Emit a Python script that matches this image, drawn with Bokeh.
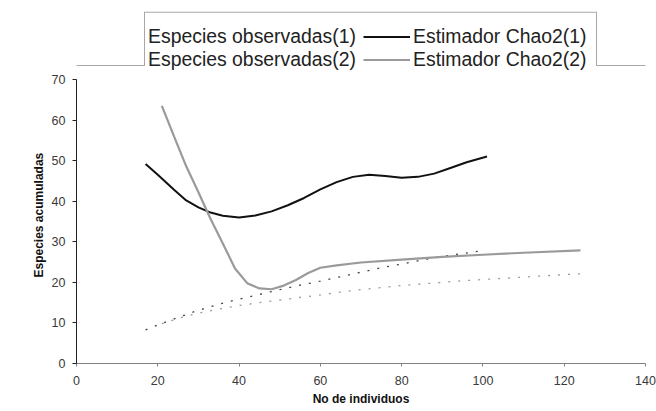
from bokeh.plotting import figure
from bokeh.models import Range1d, FixedTicker, Legend, LegendItem, BoxAnnotation, Title
from bokeh.embed import file_html
from bokeh.resources import INLINE

# ---- data ----
obs1_x = [17, 20, 23, 26, 29, 32, 35, 38, 41, 44, 47, 50, 55, 60, 65, 70, 75, 80, 85, 90, 95, 100]
obs1_y = [8.3, 9.5, 10.6, 11.7, 12.8, 13.7, 14.6, 15.4, 16.1, 16.8, 17.5, 18.2, 19.3, 20.3, 21.4, 22.5, 23.6, 24.5, 25.5, 26.4, 27.1, 27.8]

chao1_x = [17, 20, 24, 27, 30, 33, 36, 40, 44, 48, 52, 56, 60, 64, 68, 72, 76, 80, 84, 88, 92, 96, 101]
chao1_y = [49.2, 46.5, 42.8, 40.2, 38.5, 37.2, 36.4, 36.0, 36.5, 37.5, 39.0, 40.8, 42.9, 44.7, 46.0, 46.5, 46.2, 45.8, 46.0, 46.8, 48.2, 49.6, 51.0]

obs2_x = [21, 25, 30, 35, 40, 45, 50, 55, 60, 65, 70, 75, 80, 85, 90, 95, 100, 105, 110, 115, 120, 124]
obs2_y = [9.8, 11.1, 12.4, 13.4, 14.3, 15.0, 15.6, 16.3, 16.9, 17.6, 18.2, 18.7, 19.2, 19.6, 20.0, 20.4, 20.7, 21.0, 21.3, 21.6, 21.9, 22.1]

chao2_x = [21, 24, 27, 30, 33, 36, 39, 42, 45, 48, 51, 54, 57, 60, 64, 70, 80, 90, 100, 110, 124]
chao2_y = [63.5, 56.0, 48.6, 42.2, 35.6, 29.6, 23.4, 19.8, 18.5, 18.3, 19.2, 20.6, 22.3, 23.6, 24.2, 24.9, 25.6, 26.3, 26.8, 27.3, 27.9]

x_ticks = [0, 20, 40, 60, 80, 100, 120, 140]
y_ticks = [0, 10, 20, 30, 40, 50, 60, 70]

labels = ["Especies observadas(1)", "Estimador Chao2(1)",
          "Especies observadas(2)", "Estimador Chao2(2)"]
x_title = "No de individuos"
y_title = "Especies acumuladas"

FONT = "Liberation Sans"

# layout constants (pixels)
W, H = 656, 411
FRAME_L, FRAME_R, FRAME_B = 76, 645, 363
Y70_PX = 79                       # where the 70 tick sits
y_top = 70 * FRAME_B / (FRAME_B - Y70_PX)   # frame reaches the top so the legend is inside it

p = figure(width=W, height=H, output_backend="svg", toolbar_location=None,
           x_range=Range1d(0, 140), y_range=Range1d(0, y_top),
           min_border_left=FRAME_L, min_border_right=W - FRAME_R,
           min_border_top=0, min_border_bottom=H - FRAME_B)
p.xgrid.visible = False
p.ygrid.visible = False
p.outline_line_color = None
p.background_fill_color = "white"
p.border_fill_color = "white"

# axes
p.xaxis.ticker = FixedTicker(ticks=x_ticks)
p.yaxis.ticker = FixedTicker(ticks=y_ticks)
p.yaxis.bounds = (0, 70)
for ax in (p.xaxis[0], p.yaxis[0]):
    ax.minor_tick_line_color = None
    ax.major_label_text_font = FONT
    ax.major_label_text_font_size = "12.5px"
    ax.major_label_text_color = "#3a3a3a"
    ax.axis_label_text_font = FONT
    ax.axis_label_text_font_size = "12px"
    ax.axis_label_text_font_style = "bold"
    ax.axis_label_text_color = "#111111"
    ax.major_tick_in = 0

p.xaxis.axis_label = x_title
p.xaxis.axis_line_color = "#808080"
p.xaxis.major_tick_line_color = "#808080"
p.xaxis.major_tick_out = 3
p.xaxis.major_label_standoff = 9
p.xaxis.axis_label_standoff = 4
p.yaxis.axis_line_color = "#222222"
p.yaxis.major_tick_line_color = "#222222"
p.yaxis.major_tick_out = 4
p.yaxis.major_label_standoff = 7

# y title: its lower end sits at the bottom of the frame, lifted so that it is
# centred on the 0-70 part of the axis (text spans about y=158..277)
TITLE_BOTTOM_PX = 277
p.add_layout(Title(text=y_title, align="left", offset=FRAME_B - TITLE_BOTTOM_PX,
                   standoff=5, text_font=FONT, text_font_size="12px",
                   text_font_style="bold", text_color="#111111"), "left")

# series
r_obs1 = p.line(obs1_x, obs1_y, line_color="#444444", line_width=1.3, line_dash="2 8")
r_obs2 = p.line(obs2_x, obs2_y, line_color="#9a9a9a", line_width=1.3, line_dash="2 8")
r_chao1 = p.line(chao1_x, chao1_y, line_color="#111111", line_width=2)
r_chao2 = p.line(chao2_x, chao2_y, line_color="#9a9a9a", line_width=2.2)

# invisible stand-ins: the reference legend shows no sample for the observed series
d1 = p.line([], [], line_alpha=0)
d2 = p.line([], [], line_alpha=0)

LEG_LEFT, LEG_TOP, LEG_H = 94, 20.5, 54
legend = Legend(items=[LegendItem(label=labels[0], renderers=[d1]),
                       LegendItem(label=labels[1], renderers=[r_chao1]),
                       LegendItem(label=labels[2], renderers=[d2]),
                       LegendItem(label=labels[3], renderers=[r_chao2])],
                orientation="horizontal", ncols=2,
                location=(LEG_LEFT - FRAME_L, FRAME_B - LEG_TOP - LEG_H),
                margin=0, padding=4, spacing=0,
                glyph_width=47, glyph_height=17, label_height=17, label_width=215,
                label_standoff=3,
                label_text_font=FONT, label_text_font_size="19.4px",
                label_text_color="#222222",
                border_line_alpha=0, background_fill_alpha=0)
p.add_layout(legend, "center")

# legend frame and chart-area border (canvas pixels)
GRAY = "#a8a8a8"
edges = [
    (144, 596, 11.2, 12.2),      # legend top
    (143.5, 144.5, 11.2, 65.5),  # legend left
    (595.5, 596.5, 11.2, 65.5),  # legend right
    (0, 144, 64.5, 65.5),        # chart border, left part
    (596, 656, 64.5, 65.5),      # chart border, right part
]
for l, r, t, b in edges:
    p.add_layout(BoxAnnotation(left=l, right=r, top=t, bottom=b,
                               left_units="canvas", right_units="canvas",
                               top_units="canvas", bottom_units="canvas",
                               fill_color=GRAY, fill_alpha=1, line_alpha=0))

open("out.html", "w").write(file_html(p, INLINE))
